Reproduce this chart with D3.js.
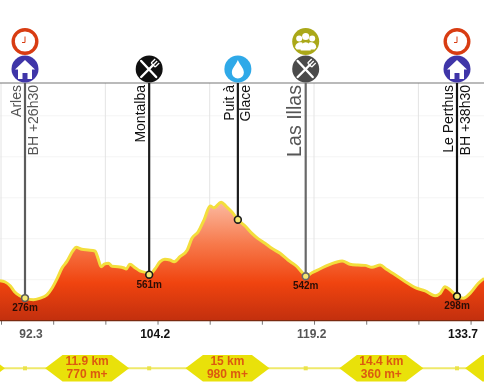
<!DOCTYPE html>
<html>
<head>
<meta charset="utf-8">
<script src="https://cdn.jsdelivr.net/npm/d3@7"></script>
<style>
  html, body { margin: 0; padding: 0; background: #fff; }
  svg { display: block; filter: blur(0.6px); font-family: "Liberation Sans", Arial, sans-serif; }
</style>
</head>
<body>
<div id="profile"></div>
<script>
// profile: km along the route and altitude in metres
var profileKm = [89.9, 90.4, 90.9, 91.3, 91.8, 92.3, 93.1, 93.7, 94.4, 94.9, 95.4, 95.85, 96.3, 96.9, 97.2,
  97.75, 98.35, 99.0, 99.3, 99.6, 99.9, 100.3, 100.65, 101.2, 101.8, 102, 102.35, 102.85, 103.3, 103.9,
  104.2, 104.75, 105.25, 105.7, 106.2, 106.6, 107.15, 107.85, 108.3, 108.9, 109.45, 110.05, 110.4, 111.1,
  111.55, 112.15, 112.7, 113.4, 114.05, 114.6, 115.3, 115.95, 116.75, 117.5, 118.3, 118.85, 119.2, 119.8,
  120.55, 121.35, 122.1, 122.7, 123.45, 124.2, 124.9, 125.55, 126.35, 126.9, 127.8, 128.75, 129.7, 130.65,
  131.6, 132.1, 132.55, 133.05, 133.7, 134.3, 134.95, 135.75, 136.3];
var profileAlt = [488, 472, 423, 353, 305, 276, 256, 273, 314, 399, 520, 643, 720, 854, 895,
  871, 863, 851, 761, 659, 689, 701, 663, 659, 643, 631, 689, 647, 607, 585,
  561, 631, 720, 749, 740, 720, 781, 863, 1005, 1085, 1228, 1399, 1378, 1445,
  1399, 1322, 1232, 1155, 1066, 1005, 945, 883, 822, 740, 667, 590, 542, 585,
  631, 679, 713, 728, 689, 679, 675, 651, 679, 631, 558, 476, 403, 363,
  305, 334, 415, 375, 298, 273, 334, 457, 517];

// waypoints
var waypointKm = [92.3, 104.2, 112.7, 119.2, 133.7];
var waypointAlt = [276, 561, 1232, 542, 298];
var waypointLines = [["Arles", "BH +26h30"], ["Montalba"], ["Puit à", "Glace"], ["Las Illas"], ["Le Perthus", "BH +38h30"]];
var waypointAltLabels = ["276m", "561m", "", "542m", "298m"];
var waypointIcons = [["house", "clock"], ["foodBlack"], ["water"], ["foodGrey", "crowd"], ["house", "clock"]];

// axes
var minorTicks = [90, 95, 100, 105, 110, 115, 120, 125, 130, 135];
var gridKm = [90, 100, 110, 120, 130];
var gridAlt = [500, 1000, 1500, 2000, 2500];
var kmLabels = [92.3, 104.2, 119.2, 133.7];

// sections between the bases (the first and last run off the picture)
var sectionStart = [80.4, 92.3, 104.2, 119.2, 133.7];
var sectionEnd = [92.3, 104.2, 119.2, 133.7, 143.3];
var sectionDist = ["", "11.9 km", "15 km", "14.4 km", ""];
var sectionClimb = ["", "770 m+", "980 m+", "360 m+", ""];

var width = 484, height = 389;

var svg = d3.select("#profile")
  .append("svg")
    .attr("width", width)
    .attr("height", height);

var x = d3.scaleLinear().domain([92.3, 133.7]).range([25, 457]);
var y = d3.scaleLinear().domain([0, 2900]).range([320.7, 83]);

var profile = profileKm.map(function(k, i) { return { km: k, alt: profileAlt[i] }; });

// gradient of the area, fixed on the page so it fades with altitude
var grad = svg.append("defs").append("linearGradient")
    .attr("id", "relief")
    .attr("gradientUnits", "userSpaceOnUse")
    .attr("x1", 0).attr("x2", 0)
    .attr("y1", y(1445)).attr("y2", y(0));
grad.append("stop").attr("offset", "0%").attr("stop-color", "#fbb9a0");
grad.append("stop").attr("offset", "35%").attr("stop-color", "#f77a4c");
grad.append("stop").attr("offset", "68%").attr("stop-color", "#f0440f");
grad.append("stop").attr("offset", "100%").attr("stop-color", "#c22f0e");

// grid
svg.append("g").selectAll("line").data(gridAlt).enter().append("line")
    .attr("x1", 0).attr("x2", width)
    .attr("y1", function(d) { return y(d); })
    .attr("y2", function(d) { return y(d); })
    .attr("stroke", "#f4f4f4");
svg.append("g").selectAll("line").data(gridKm).enter().append("line")
    .attr("x1", function(d) { return x(d); })
    .attr("x2", function(d) { return x(d); })
    .attr("y1", y(2900)).attr("y2", y(0))
    .attr("stroke", "#e4e4e4");

// area and its yellow edge
svg.append("path")
    .datum(profile)
    .attr("fill", "url(#relief)")
    .attr("d", d3.area()
      .curve(d3.curveMonotoneX)
      .x(function(d) { return x(d.km); })
      .y0(y(0))
      .y1(function(d) { return y(d.alt); }));
svg.append("path")
    .datum(profile)
    .attr("fill", "none")
    .attr("stroke", "#f3de3c")
    .attr("stroke-width", 3)
    .attr("stroke-linejoin", "round")
    .attr("d", d3.line()
      .curve(d3.curveMonotoneX)
      .x(function(d) { return x(d.km); })
      .y(function(d) { return y(d.alt); }));

// top rule
svg.append("line")
    .attr("x1", 0).attr("x2", width)
    .attr("y1", y(2900)).attr("y2", y(2900))
    .attr("stroke", "#777")
    .attr("stroke-width", 1.2);

// x axis: small ticks every 5 km
var tickAxis = svg.append("g")
    .attr("transform", "translate(0," + y(0) + ")")
    .call(d3.axisBottom(x).tickValues(minorTicks).tickSize(4).tickFormat(""));
tickAxis.select(".domain").remove();
tickAxis.selectAll("line").attr("stroke", "#777");
svg.append("line")
    .attr("x1", 0).attr("x2", width)
    .attr("y1", y(0)).attr("y2", y(0))
    .attr("stroke", "#7a2a10")
    .attr("stroke-width", 1.2);

// x axis: km of the waypoints
var labelAxis = svg.append("g")
    .attr("transform", "translate(0," + y(0) + ")")
    .call(d3.axisBottom(x).tickValues(kmLabels).tickSize(0).tickFormat(d3.format(".1f")));
labelAxis.select(".domain").remove();
labelAxis.selectAll("text")
    .attr("dx", 5.5)
    .attr("y", 9)
    .attr("font-size", 12)
    .attr("font-family", "Liberation Sans, Arial, sans-serif")
    .attr("font-weight", "bold")
    .attr("fill", function(d, i) { return i % 2 ? "#111" : "#555"; });

// section band
var bandY = 368.3;
svg.append("line")
    .attr("x1", 0).attr("x2", width)
    .attr("y1", bandY).attr("y2", bandY)
    .attr("stroke", "#efe96a")
    .attr("stroke-width", 2);
svg.append("g").selectAll("rect").data(waypointKm.filter(function(d, i) { return i !== 2; })).enter().append("rect")
    .attr("x", function(d) { return x(d) - 2; })
    .attr("y", bandY - 2)
    .attr("width", 4).attr("height", 4)
    .attr("fill", "#ebe34a");

var section = svg.append("g").selectAll("g").data(sectionStart).enter().append("g")
    .attr("transform", function(d, i) {
      return "translate(" + (x(d) + x(sectionEnd[i])) / 2 + "," + bandY + ")";
    });
section.append("path")
    .attr("d", "M-42,0L-24.5,-13.3L24.5,-13.3L42,0L24.5,13.3L-24.5,13.3Z")
    .attr("fill", "#e9e10a");
section.append("text")
    .attr("text-anchor", "middle")
    .attr("y", -3.3)
    .attr("font-size", 12)
    .attr("font-weight", "bold")
    .attr("fill", "#dc5a10")
    .text(function(d, i) { return sectionDist[i]; });
section.append("text")
    .attr("text-anchor", "middle")
    .attr("y", 10)
    .attr("font-size", 12)
    .attr("font-weight", "bold")
    .attr("fill", "#dc5a10")
    .text(function(d, i) { return sectionClimb[i]; });

// waypoint stems, in the tone of each one
var stemColors = ["#5c5c5c", "#1c1c1c", "#1c1c1c", "#686868", "#111"];
svg.append("g").selectAll("line").data(waypointKm).enter().append("line")
    .attr("x1", function(d) { return x(d); })
    .attr("x2", function(d) { return x(d); })
    .attr("y1", y(2900))
    .attr("y2", function(d, i) { return y(waypointAlt[i]); })
    .attr("stroke", function(d, i) { return stemColors[i]; })
    .attr("stroke-width", 2.2);

svg.append("g").selectAll("circle").data(waypointKm).enter().append("circle")
    .attr("cx", function(d) { return x(d); })
    .attr("cy", function(d, i) { return y(waypointAlt[i]); })
    .attr("r", 3.4)
    .attr("fill", "#f4e872")
    .attr("stroke", function(d, i) { return stemColors[i]; })
    .attr("stroke-width", 1.6);

svg.append("g").selectAll("text").data(waypointKm).enter().append("text")
    .attr("x", function(d) { return x(d); })
    .attr("y", function(d, i) { return y(waypointAlt[i]) + 13; })
    .attr("text-anchor", "middle")
    .attr("font-size", 10)
    .attr("font-weight", "bold")
    .attr("fill", "#2b0d06")
    .text(function(d, i) { return waypointAltLabels[i]; });

// rotated names next to the stems
waypointKm.forEach(function(k, i) {
  waypointLines[i].forEach(function(txt, j) {
    var big = txt === "Las Illas";
    svg.append("text")
      .attr("transform", "translate(" + (x(k) + (j ? 12.5 : big ? -5 : -4)) + ",85) rotate(-90)")
      .attr("text-anchor", "end")
      .attr("font-size", big ? 19.6 : 14)
      .attr("fill", stemColors[i] === "#1c1c1c" || stemColors[i] === "#111" ? "#111" : "#555")
      .text(txt);
  });
});

// icons on top of the stems
var icons = {
  house: function(g) {
    g.append("circle").attr("r", 13.5).attr("fill", "#3f35a8");
    g.append("path").attr("fill", "#fff")
      .attr("d", "M0,-9L10,0.5L7,0.5L7,10L2.5,10L2.5,4L-2.5,4L-2.5,10L-7,10L-7,0.5L-10,0.5Z");
  },
  clock: function(g) {
    g.append("circle").attr("r", 11.8).attr("fill", "#fff").attr("stroke", "#d83c12").attr("stroke-width", 3.4);
    g.append("path").attr("fill", "none").attr("stroke", "#d83c12").attr("stroke-width", 1)
      .attr("d", "M0,-5L0,1L-3,1");
  },
  foodBlack: function(g) { circleFood(g, "#0f0f0f"); },
  foodGrey: function(g) { circleFood(g, "#4a4a4a"); },
  water: function(g) {
    g.append("circle").attr("r", 13.5).attr("fill", "#2fa9e8");
    g.append("path").attr("fill", "#fff")
      .attr("d", "M0,-9C2,-4 6,-1 6,3.5A6,6 0 0 1 -6,3.5C-6,-1 -2,-4 0,-9Z");
  },
  crowd: function(g) {
    g.append("circle").attr("r", 13.5).attr("fill", "#aaa818");
    [[-6.5, -3, 3], [6.5, -3, 3], [0, -5, 3.6]].forEach(function(h) {
      g.append("circle").attr("cx", h[0]).attr("cy", h[1]).attr("r", h[2]).attr("fill", "#fff");
    });
    g.append("path").attr("fill", "#fff").attr("d", "M-10.5,6C-10.5,0 -3,0 -3,2L-3,8L-9,8Z");
    g.append("path").attr("fill", "#fff").attr("d", "M10.5,6C10.5,0 3,0 3,2L3,8L9,8Z");
    g.append("path").attr("fill", "#fff").attr("d", "M-5,9C-6,-2 6,-2 5,9Z");
  }
};

function circleFood(g, color) {
  g.append("circle").attr("r", 13.5).attr("fill", color);
  g.append("path").attr("fill", "none").attr("stroke", "#fff").attr("stroke-width", 2.4)
    .attr("stroke-linecap", "round")
    .attr("d", "M-8,-8L7,8M-8,8L4,-4");
  g.append("path").attr("fill", "none").attr("stroke", "#fff").attr("stroke-width", 1.3)
    .attr("d", "M2,-6L6,-10M4,-4L8,-8M6,-2L10,-6M2,-6L6,-2");
}

waypointKm.forEach(function(k, i) {
  waypointIcons[i].forEach(function(name, j) {
    var g = svg.append("g")
      .attr("transform", "translate(" + x(k) + "," + (j ? 41.5 : 69) + ")");
    icons[name](g);
  });
});
</script>
</body>
</html>
